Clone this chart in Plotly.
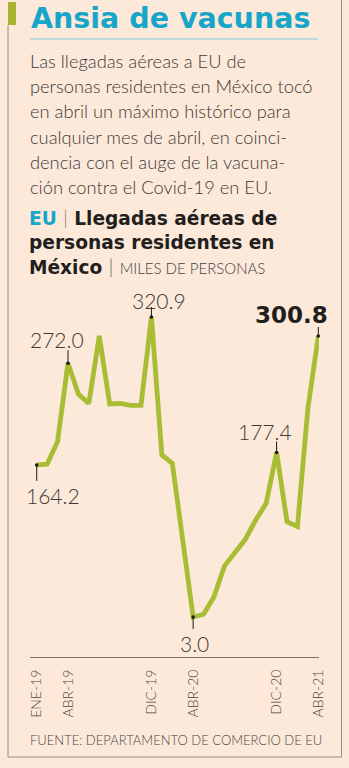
import plotly.graph_objects as go

# Monthly air arrivals to the US of Mexican residents (thousands of people)
months = ["ENE-19", "FEB-19", "MAR-19", "ABR-19", "MAY-19", "JUN-19", "JUL-19",
          "AGO-19", "SEP-19", "OCT-19", "NOV-19", "DIC-19", "ENE-20", "FEB-20",
          "MAR-20", "ABR-20", "MAY-20", "JUN-20", "JUL-20", "AGO-20", "SEP-20",
          "OCT-20", "NOV-20", "DIC-20", "ENE-21", "FEB-21", "MAR-21", "ABR-21"]
arrivals = [164.2, 165.0, 188.8, 272.0, 239.3, 229.4, 301.0, 228.7, 229.4, 227.3,
            227.3, 320.9, 174.7, 165.9, 84.6, 3.0, 5.9, 24.5, 57.0, 70.5, 85.3,
            105.8, 123.5, 177.4, 104.0, 98.7, 224.0, 300.8]

tick_months = ["ENE-19", "ABR-19", "DIC-19", "ABR-20", "DIC-20", "ABR-21"]

# Highlighted values: month, x/y text offset (px), leader length (px, + is up)
labeled = [("ENE-19", 16, -31, -16), ("ABR-19", -11, 24, 13), ("DIC-19", 8, 17, 10),
           ("ABR-20", 1, -26, -12), ("DIC-20", -12, 21, 11), ("ABR-21", -27, 21, 9)]

W, H = 349, 768
BG = "#FCE9DA"
LINE = "#A9BD34"
CYAN = "#17A6C9"
TEXT = "#3d3a38"
DARK = "#221e1c"
FRAME = "#958c85"
LIGHT = "Lato"
HEAVY = "DejaVu Sans"


def px(x):
    return x / W


def py(y):
    return 1 - y / H


idx = list(range(len(months)))
pos = {m: i for i, m in enumerate(months)}

fig = go.Figure()
fig.add_trace(go.Scatter(
    x=idx, y=arrivals, mode="lines",
    line=dict(color=LINE, width=4.8), hoverinfo="skip", cliponaxis=False,
))
fig.add_trace(go.Scatter(
    x=[pos[m] for m, *_ in labeled], y=[arrivals[pos[m]] for m, *_ in labeled],
    mode="markers", marker=dict(color="#1a1a1a", size=3.5),
    hoverinfo="skip", cliponaxis=False,
))

annotations = []
shapes = []

for m, dx, dy, lead in labeled:
    i = pos[m]
    v = arrivals[i]
    last = i == len(months) - 1
    font = (dict(family=HEAVY, size=23, color=DARK, weight=700) if last
            else dict(family=LIGHT, size=21, color=TEXT, weight=300))
    annotations.append(dict(
        x=i, y=v, xref="x", yref="y", showarrow=False,
        text=f"{v:.1f}", xshift=dx, yshift=dy, font=font,
    ))
    shapes.append(dict(
        type="line", xref="x", yref="y", ysizemode="pixel", yanchor=v,
        x0=i, x1=i, y0=0, y1=lead, line=dict(color="#1a1a1a", width=1),
    ))

# Title block
annotations.append(dict(
    x=px(29), y=py(18.5), xref="paper", yref="paper", xanchor="left", yanchor="middle",
    showarrow=False, text="Ansia de vacunas",
    font=dict(family=HEAVY, size=28.5, color=CYAN, weight=700),
))
shapes.append(dict(type="line", xref="paper", yref="paper",
                   x0=px(30), x1=px(318), y0=py(39), y1=py(39),
                   line=dict(color="#86CCDD", width=1)))
shapes.append(dict(type="rect", xref="paper", yref="paper",
                   x0=px(8), x1=px(16), y0=py(2), y1=py(25),
                   fillcolor="#A9B530", line=dict(width=0)))

# Frame
shapes.append(dict(type="line", xref="paper", yref="paper",
                   x0=px(8), x1=px(8), y0=py(25), y1=py(757),
                   line=dict(color=FRAME, width=1)))
shapes.append(dict(type="line", xref="paper", yref="paper",
                   x0=px(8), x1=px(341.5), y0=py(757), y1=py(757),
                   line=dict(color=FRAME, width=1)))
shapes.append(dict(type="line", xref="paper", yref="paper",
                   x0=px(341.5), x1=px(341.5), y0=py(0), y1=py(757),
                   line=dict(color=FRAME, width=1)))

paragraph = [
    "Las llegadas aéreas a EU de",
    "personas residentes en México tocó",
    "en abril un máximo histórico para",
    "cualquier mes de abril, en coinci-",
    "dencia con el auge de la vacuna-",
    "ción contra el Covid-19 en EU.",
]
for k, line in enumerate(paragraph):
    annotations.append(dict(
        x=px(28), y=py(61 + 25.2 * k), xref="paper", yref="paper",
        xanchor="left", yanchor="middle", showarrow=False, text=line,
        font=dict(family=LIGHT, size=18.3, color=TEXT, weight=300),
    ))

light_span = f"font-family:{LIGHT};font-weight:300"
subtitle = [
    f"<span style='color:{CYAN}'>EU</span> "
    f"<span style='{light_span};color:#777'>|</span> Llegadas aéreas de",
    "personas residentes en",
    f"México <span style='{light_span};color:#555'>|</span> "
    f"<span style='{light_span};font-size:15px;color:#444'>MILES DE PERSONAS</span>",
]
for k, line in enumerate(subtitle):
    annotations.append(dict(
        x=px(27), y=py(218 + 24.5 * k), xref="paper", yref="paper",
        xanchor="left", yanchor="middle", showarrow=False, text=line,
        font=dict(family=HEAVY, size=18.6, color=DARK, weight=700),
    ))

annotations.append(dict(
    x=px(28), y=py(740), xref="paper", yref="paper", xanchor="left", yanchor="middle",
    showarrow=False, text="FUENTE: DEPARTAMENTO DE COMERCIO DE EU",
    font=dict(family=LIGHT, size=13, color="#4a4644", weight=300),
))

# Plot area: 10.43 px per month, first month at x=36.7 px, axis line at y=657 px
x0_px, x1_px = 30, 319
step = 10.43
r0 = -(36.7 - x0_px) / step
r1 = r0 + (x1_px - x0_px) / step
y_top, y_bot = 290, 657
ppu = 300.0 / (320.9 - 3.0)
yr0 = 3.0 - (y_bot - 617) / ppu
yr1 = 3.0 + (617 - y_top) / ppu

fig.update_layout(
    template="none",
    width=W, height=H, autosize=False,
    margin=dict(l=0, r=0, t=0, b=0),
    paper_bgcolor=BG, plot_bgcolor=BG,
    showlegend=False,
    xaxis=dict(
        domain=[px(x0_px), px(x1_px)], range=[r0, r1], automargin=False,
        showgrid=False, zeroline=False, showline=True, linecolor="#7d726b", linewidth=1,
        ticks="", tickmode="array",
        tickvals=[pos[m] for m in tick_months], ticktext=tick_months,
        tickangle=-90, ticklabelstandoff=6,
        tickfont=dict(family=LIGHT, size=14, color="#4a4644", weight=300),
        fixedrange=True,
    ),
    yaxis=dict(
        domain=[py(y_bot), py(y_top)], range=[yr0, yr1], automargin=False,
        visible=False, fixedrange=True,
    ),
    annotations=annotations,
    shapes=shapes,
)

fig.write_html("out.html")
